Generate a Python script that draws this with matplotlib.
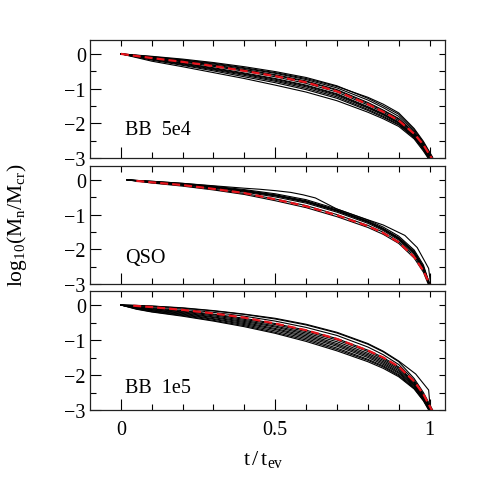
import matplotlib
matplotlib.use("Agg")
import matplotlib.pyplot as plt

plt.rcParams['font.family'] = ['Liberation Serif', 'DejaVu Serif']
plt.rcParams['mathtext.fontset'] = 'custom'
plt.rcParams['mathtext.rm'] = 'Liberation Serif'
plt.rcParams['mathtext.it'] = 'Liberation Serif:italic'

# ---------------- data ----------------
panel_labels = ["BB  5e4", "QSO", "BB  1e5"]

# Panel 1: BB 5e4
t_bb5 = [0, 0.1, 0.2, 0.3, 0.4, 0.5, 0.6, 0.7, 0.8, 0.85, 0.9, 0.95, 0.98, 1.01]
bb5_runs = [
    [0, -0.07, -0.15, -0.25, -0.37, -0.51, -0.68, -0.92, -1.28, -1.50, -1.74, -2.18, -2.55, -3.00],
    [0, -0.09, -0.18, -0.29, -0.42, -0.56, -0.74, -0.98, -1.33, -1.55, -1.80, -2.22, -2.58, -3.05],
    [0, -0.10, -0.20, -0.32, -0.45, -0.60, -0.78, -1.03, -1.40, -1.62, -1.86, -2.26, -2.62, -3.10],
    [0, -0.12, -0.23, -0.36, -0.50, -0.66, -0.85, -1.10, -1.47, -1.68, -1.92, -2.30, -2.66, -3.10],
    [0, -0.13, -0.26, -0.40, -0.55, -0.71, -0.90, -1.15, -1.52, -1.72, -1.96, -2.34, -2.70, -3.15],
    [0, -0.15, -0.29, -0.44, -0.59, -0.76, -0.95, -1.20, -1.56, -1.76, -2.00, -2.38, -2.72, -3.15],
    [0, -0.18, -0.33, -0.49, -0.66, -0.83, -1.03, -1.28, -1.63, -1.83, -2.05, -2.42, -2.76, -3.20],
    [0, -0.21, -0.37, -0.54, -0.71, -0.90, -1.10, -1.35, -1.68, -1.87, -2.09, -2.45, -2.80, -3.20],
    [0, -0.08, -0.17, -0.27, -0.40, -0.54, -0.71, -0.94, -1.25, -1.45, -1.70, -2.15, -2.52, -2.98],
    [0, -0.11, -0.21, -0.33, -0.47, -0.62, -0.80, -1.05, -1.43, -1.64, -1.88, -2.28, -2.64, -3.08],
    [0, -0.14, -0.27, -0.42, -0.57, -0.73, -0.92, -1.17, -1.54, -1.74, -1.98, -2.36, -2.71, -3.15],
    [0, -0.16, -0.31, -0.46, -0.62, -0.79, -0.99, -1.24, -1.60, -1.80, -2.03, -2.40, -2.74, -3.18],
]
t_bb5_mean = [0, 0.1, 0.2, 0.3, 0.4, 0.5, 0.6, 0.7, 0.8, 0.85, 0.9, 0.95, 0.98, 1.01]
bb5_mean = [0, -0.12, -0.23, -0.35, -0.49, -0.64, -0.82, -1.08, -1.45, -1.67, -1.92, -2.30, -2.62, -3.05]

# Panel 2: QSO
t_qso = [0.02, 0.1, 0.2, 0.3, 0.4, 0.5, 0.6, 0.7, 0.8, 0.85, 0.9, 0.95, 0.98, 1.0]
qso_runs = [
    [0, -0.04, -0.10, -0.18, -0.28, -0.40, -0.57, -0.84, -1.16, -1.36, -1.62, -2.02, -2.45, -3.00],
    [0, -0.05, -0.11, -0.20, -0.30, -0.43, -0.60, -0.87, -1.19, -1.40, -1.66, -2.06, -2.50, -3.00],
    [0, -0.06, -0.13, -0.22, -0.33, -0.46, -0.64, -0.90, -1.22, -1.43, -1.70, -2.10, -2.55, -3.05],
    [0, -0.07, -0.14, -0.24, -0.35, -0.49, -0.67, -0.93, -1.25, -1.46, -1.73, -2.14, -2.58, -3.05],
    [0, -0.08, -0.16, -0.27, -0.39, -0.55, -0.74, -1.00, -1.31, -1.51, -1.78, -2.19, -2.60, -3.05],
    [0, -0.09, -0.18, -0.29, -0.42, -0.60, -0.80, -1.06, -1.37, -1.57, -1.83, -2.25, -2.66, -3.10],
    [0, -0.06, -0.12, -0.21, -0.31, -0.44, -0.62, -0.88, -1.20, -1.41, -1.68, -2.08, -2.52, -3.00],
    [0, -0.05, -0.12, -0.21, -0.32, -0.45, -0.63, -0.89, -1.21, -1.42, -1.69, -2.09, -2.53, -3.02],
]
t_qso_odd = [0.02, 0.1, 0.2, 0.3, 0.4, 0.45, 0.5, 0.55, 0.59, 0.63, 0.7, 0.8, 0.85, 0.92, 0.96, 0.997, 1.004]
qso_odd = [0, -0.04, -0.10, -0.17, -0.24, -0.27, -0.31, -0.36, -0.43, -0.52, -0.84, -1.15, -1.30, -1.60, -1.95, -2.55, -3.05]
t_qso_mean = [0.05, 0.1, 0.2, 0.3, 0.4, 0.5, 0.6, 0.7, 0.8, 0.85, 0.9, 0.95, 0.98, 1.0]
qso_mean = [-0.03, -0.07, -0.15, -0.26, -0.38, -0.56, -0.76, -1.02, -1.33, -1.53, -1.80, -2.22, -2.62, -3.00]

# Panel 3: BB 1e5
t_bb1 = [0, 0.05, 0.1, 0.2, 0.3, 0.4, 0.5, 0.6, 0.7, 0.8, 0.85, 0.9, 0.95, 0.98, 1.01]
bb1_runs = [
    [0, -0.01, -0.03, -0.09, -0.17, -0.27, -0.40, -0.57, -0.80, -1.12, -1.34, -1.62, -2.10, -2.50, -3.00],
    [0, -0.02, -0.05, -0.12, -0.21, -0.32, -0.46, -0.64, -0.87, -1.20, -1.42, -1.70, -2.15, -2.55, -3.05],
    [0, -0.04, -0.08, -0.16, -0.26, -0.38, -0.53, -0.72, -0.96, -1.29, -1.50, -1.77, -2.20, -2.58, -3.05],
    [0, -0.06, -0.11, -0.20, -0.31, -0.44, -0.60, -0.80, -1.05, -1.38, -1.58, -1.84, -2.25, -2.62, -3.10],
    [0, -0.08, -0.14, -0.24, -0.36, -0.50, -0.67, -0.88, -1.14, -1.46, -1.66, -1.92, -2.30, -2.66, -3.10],
    [0, -0.10, -0.17, -0.28, -0.41, -0.56, -0.74, -0.96, -1.23, -1.55, -1.74, -1.99, -2.36, -2.70, -3.15],
    [0, -0.12, -0.20, -0.32, -0.46, -0.62, -0.81, -1.04, -1.31, -1.62, -1.81, -2.05, -2.40, -2.74, -3.20],
    [0, -0.05, -0.10, -0.18, -0.28, -0.41, -0.56, -0.76, -1.00, -1.33, -1.54, -1.80, -2.22, -2.60, -3.08],
    [0, -0.09, -0.16, -0.26, -0.39, -0.53, -0.70, -0.92, -1.18, -1.50, -1.70, -1.95, -2.33, -2.68, -3.12],
    [0, -0.07, -0.13, -0.22, -0.34, -0.47, -0.63, -0.84, -1.10, -1.42, -1.62, -1.88, -2.28, -2.64, -3.10],
    [0, -0.11, -0.19, -0.30, -0.44, -0.59, -0.78, -1.00, -1.27, -1.58, -1.77, -2.02, -2.38, -2.72, -3.18],
]
t_bb1_odd = [0, 0.1, 0.2, 0.3, 0.4, 0.5, 0.6, 0.7, 0.8, 0.85, 0.9, 0.955, 0.997, 1.003]
bb1_odd = [0, -0.03, -0.08, -0.16, -0.26, -0.38, -0.55, -0.78, -1.10, -1.32, -1.60, -1.97, -2.43, -3.05]
t_bb1_mean = [0.04, 0.1, 0.2, 0.3, 0.4, 0.5, 0.6, 0.7, 0.8, 0.85, 0.9, 0.95, 0.98, 1.01]
bb1_mean = [-0.02, -0.06, -0.14, -0.24, -0.36, -0.53, -0.72, -0.97, -1.30, -1.50, -1.76, -2.18, -2.55, -3.05]

x_ticks = [0, 0.5, 1]
x_ticklabels = ["0", "0.5", "1"]
y_ticks = [0, -1, -2, -3]
y_ticklabels = ["0", "\u22121", "\u22122", "\u22123"]

# ---------------- figure ----------------
W = 485
fig = plt.figure(figsize=(4.85, 4.85), dpi=100)

def frac_x(px):
    return px / W

def frac_y(px):
    return 1 - px / W

panel_px = [(41, 159), (167, 285), (292, 411)]
label_pos = [0.20, 0.19, 0.155]

runs_all = [
    ([(t_bb5, r) for r in bb5_runs], (t_bb5_mean, bb5_mean)),
    ([(t_qso, r) for r in qso_runs] + [(t_qso_odd, qso_odd)], (t_qso_mean, qso_mean)),
    ([(t_bb1, r) for r in bb1_runs] + [(t_bb1_odd, bb1_odd)], (t_bb1_mean, bb1_mean)),
]

left_px, right_px = 90, 445
for i, ((top, bot), (runs, mean)) in enumerate(zip(panel_px, runs_all)):
    ax = fig.add_axes([frac_x(left_px), frac_y(bot),
                       frac_x(right_px - left_px), (bot - top) / W])
    for tt, yy in runs:
        ax.plot(tt, yy, color='black', lw=0.8, solid_joinstyle='miter')
    ax.plot(mean[0], mean[1], color='#e8141c', lw=1.6, dashes=(3.6, 1.8))
    ax.set_xlim(-0.1, 1.05)
    ax.set_ylim(-3, 0.4)
    ax.set_xticks(x_ticks)
    ax.set_xticks([k / 10 for k in range(11)], minor=True)
    ax.set_yticks(y_ticks)
    ax.set_yticks([-0.5, -1.5, -2.5], minor=True)
    ax.set_yticklabels(y_ticklabels, fontsize=14.5)
    if i == 2:
        ax.set_xticklabels(x_ticklabels, fontsize=14.5)
    else:
        ax.set_xticklabels([])
    ax.tick_params(which='major', direction='in', length=8, width=0.8,
                   top=False, right=False, pad=3)
    ax.tick_params(which='minor', direction='in', length=4.5, width=0.8,
                   top=False, right=False)
    ax.tick_params(axis='x', which='major', pad=7)
    # short ticks on top and right
    sx = ax.secondary_xaxis('top')
    sx.set_xticks(x_ticks)
    sx.set_xticks([k / 10 for k in range(11)], minor=True)
    sx.tick_params(which='both', direction='in', length=4.5, width=0.8, labeltop=False)
    sy = ax.secondary_yaxis('right')
    sy.set_yticks(y_ticks)
    sy.set_yticks([-0.5, -1.5, -2.5], minor=True)
    sy.tick_params(which='both', direction='in', length=4.5, width=0.8, labelright=False)
    for s in list(ax.spines.values()):
        s.set_linewidth(0.9)
        s.set_color('#222222')
    sx.spines['top'].set_visible(False)
    sy.spines['right'].set_visible(False)
    ax.text(0.098, label_pos[i], panel_labels[i], transform=ax.transAxes,
            fontsize=14.5, ha='left', va='baseline')

fig.text(0.035, 0.535, r'$\mathrm{log_{10}(M_n/M_{cr})}$', rotation=90,
         ha='center', va='center', fontsize=15.5)
fig.text(0.542, 0.052, r'$\mathrm{t\,/\,t_{ev}}$', ha='center', va='center', fontsize=16)

fig.savefig("out.png", dpi=100)
